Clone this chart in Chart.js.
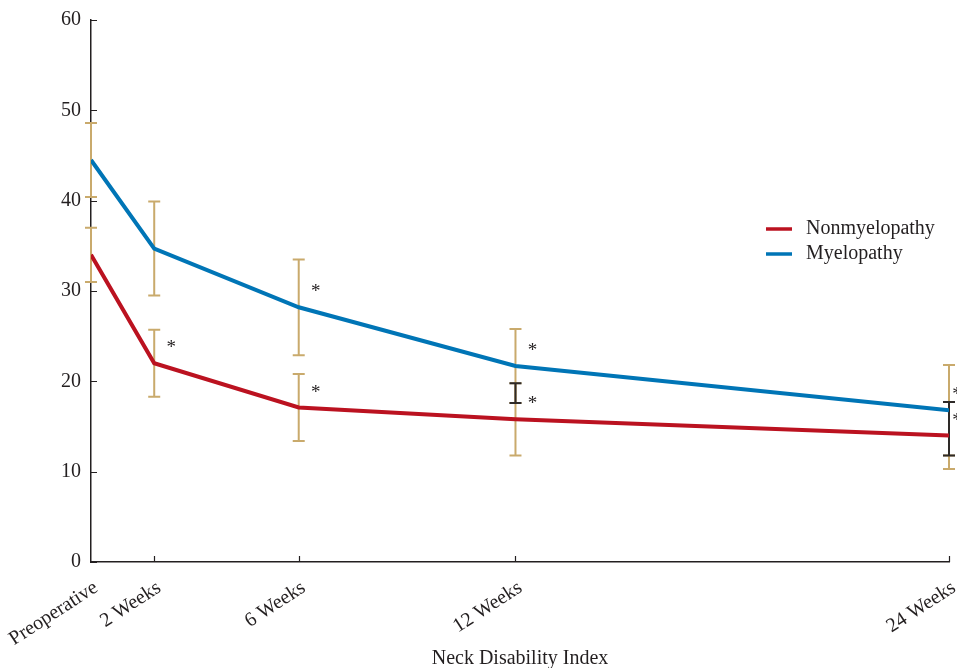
<!DOCTYPE html>
<html>
<head>
<meta charset="utf-8">
<title>Neck Disability Index</title>
<script src="https://cdn.jsdelivr.net/npm/chart.js@4.4.0/dist/chart.umd.min.js"></script>
<style>
  html, body { margin: 0; padding: 0; background: #fff; }
  .chart-box { width: 957px; height: 668px; }
</style>
</head>
<body>
<div class="chart-box"><canvas id="ndiChart"></canvas></div>
<script>
/* ================= DATA ================= */
const timeLabels = ["Preoperative", "2 Weeks", "6 Weeks", "12 Weeks", "24 Weeks"];
const timeWeeks = [0.25, 2, 6, 12, 24];

const nonMyeloMean = [34.0, 22.0, 17.1, 15.8, 14.0];
const nonMyeloSD = [3.0, 3.7, 3.7, 4.0, 3.7];
const nonMyeloSig = [false, true, true, true, true];

const myeloMean = [44.5, 34.7, 28.2, 21.7, 16.8];
const myeloSD = [4.1, 5.2, 5.3, 4.1, 5.0];
const myeloSig = [false, false, true, true, true];

const yTicks = [0, 10, 20, 30, 40, 50, 60];

/* ================= STYLE ================= */
const FONT = "'Liberation Serif', 'Times New Roman', serif";
const TEXT = "#231f20";
const RED = "#bb1220";
const BLUE = "#0075b6";
const GOLD = "#c9aa6c";
const DARK = "#2e2a28";

/* ================= PLUGINS ================= */
// error bars under the lines, overlap of the two ranges in dark
const errorBars = {
    id: "errorBars",
    beforeDatasetsDraw(chart) {
        const { ctx, scales: { x, y } } = chart;
        const cap = 6;
        const drawBar = (px, lo, hi, color) => {
            const yLo = y.getPixelForValue(lo);
            const yHi = y.getPixelForValue(hi);
            ctx.strokeStyle = color;
            ctx.lineWidth = 2;
            ctx.beginPath();
            ctx.moveTo(px, yHi); ctx.lineTo(px, yLo);
            ctx.moveTo(px - cap, yHi); ctx.lineTo(px + cap, yHi);
            ctx.moveTo(px - cap, yLo); ctx.lineTo(px + cap, yLo);
            ctx.stroke();
        };
        ctx.save();
        timeWeeks.forEach((w, i) => {
            const px = x.getPixelForValue(w);
            const redLo = nonMyeloMean[i] - nonMyeloSD[i], redHi = nonMyeloMean[i] + nonMyeloSD[i];
            const blueLo = myeloMean[i] - myeloSD[i], blueHi = myeloMean[i] + myeloSD[i];
            drawBar(px, redLo, redHi, GOLD);
            drawBar(px, blueLo, blueHi, GOLD);
            const lo = Math.max(redLo, blueLo);
            const hi = Math.min(redHi, blueHi);
            if (hi > lo) drawBar(px, lo, hi, DARK);
        });
        ctx.restore();
    }
};

// inward tick marks + significance stars + legend
const decorations = {
    id: "decorations",
    afterDraw(chart) {
        const { ctx, chartArea, scales: { x, y } } = chart;
        ctx.save();

        ctx.strokeStyle = TEXT;
        ctx.lineWidth = 1.2;
        ctx.beginPath();
        yTicks.forEach(v => {
            const py = Math.round(y.getPixelForValue(v)) + 0.5;
            ctx.moveTo(chartArea.left, py);
            ctx.lineTo(chartArea.left + 6, py);
        });
        timeWeeks.slice(1).forEach(w => {
            const px = Math.round(x.getPixelForValue(w)) + 0.5;
            ctx.moveTo(px, chartArea.bottom);
            ctx.lineTo(px, chartArea.bottom - 6);
        });
        ctx.stroke();

        ctx.fillStyle = TEXT;
        ctx.font = `19px ${FONT}`;
        ctx.textAlign = "center";
        ctx.textBaseline = "middle";
        const star = (w, v) => {
            const px = Math.min(x.getPixelForValue(w) + 17, chart.width);
            const py = y.getPixelForValue(v) - 15;
            ctx.fillText("*", px, py);
        };
        timeWeeks.forEach((w, i) => {
            if (nonMyeloSig[i]) star(w, nonMyeloMean[i]);
            if (myeloSig[i]) star(w, myeloMean[i]);
        });

        ctx.font = `20px ${FONT}`;
        ctx.textAlign = "left";
        ctx.textBaseline = "middle";
        chart.data.datasets.forEach((ds, i) => {
            const ly = 229 + i * 25;
            ctx.strokeStyle = ds.borderColor;
            ctx.lineWidth = 3.5;
            ctx.beginPath();
            ctx.moveTo(766, ly);
            ctx.lineTo(792, ly);
            ctx.stroke();
            ctx.fillStyle = TEXT;
            ctx.fillText(ds.label, 806, ly);
        });

        ctx.restore();
    }
};

/* ================= CHART ================= */
const toPoints = values => values.map((v, i) => ({ x: timeWeeks[i], y: v }));

new Chart(document.getElementById("ndiChart"), {
    type: "line",
    data: {
        datasets: [
            {
                label: "Nonmyelopathy",
                data: toPoints(nonMyeloMean),
                borderColor: RED,
                borderWidth: 4,
                pointRadius: 0,
                tension: 0
            },
            {
                label: "Myelopathy",
                data: toPoints(myeloMean),
                borderColor: BLUE,
                borderWidth: 4,
                pointRadius: 0,
                tension: 0
            }
        ]
    },
    plugins: [errorBars, decorations],
    options: {
        responsive: true,
        maintainAspectRatio: false,
        animation: false,
        layout: { padding: { top: 20, right: 8, left: 0, bottom: 0 } },
        plugins: {
            legend: { display: false },
            tooltip: { enabled: false }
        },
        scales: {
            x: {
                type: "linear",
                min: timeWeeks[0],
                max: timeWeeks[timeWeeks.length - 1],
                afterBuildTicks: scale => {
                    scale.ticks = timeWeeks.map(v => ({ value: v }));
                },
                afterFit: scale => {
                    scale.height = 106;
                    scale.paddingLeft = 0;
                    scale.paddingRight = 0;
                },
                grid: { display: false, drawTicks: false },
                border: { display: true, color: TEXT, width: 1.5 },
                ticks: {
                    autoSkip: false,
                    minRotation: 33,
                    maxRotation: 33,
                    padding: 14,
                    labelOffset: 5,
                    color: TEXT,
                    font: { family: FONT, size: 20 },
                    callback: value => timeLabels[timeWeeks.indexOf(value)]
                },
                title: {
                    display: true,
                    text: "Neck Disability Index",
                    color: TEXT,
                    padding: { top: 0, bottom: -3 },
                    font: { family: FONT, size: 20 }
                }
            },
            y: {
                min: 0,
                max: 60,
                afterBuildTicks: scale => {
                    scale.ticks = yTicks.map(v => ({ value: v }));
                },
                afterFit: scale => {
                    scale.width = 91;
                    scale.paddingTop = 0;
                    scale.paddingBottom = 0;
                },
                grid: { display: false, drawTicks: false },
                border: { display: true, color: TEXT, width: 1.5 },
                ticks: {
                    padding: 10,
                    color: TEXT,
                    font: { family: FONT, size: 20 }
                }
            }
        }
    }
});
</script>
</body>
</html>
